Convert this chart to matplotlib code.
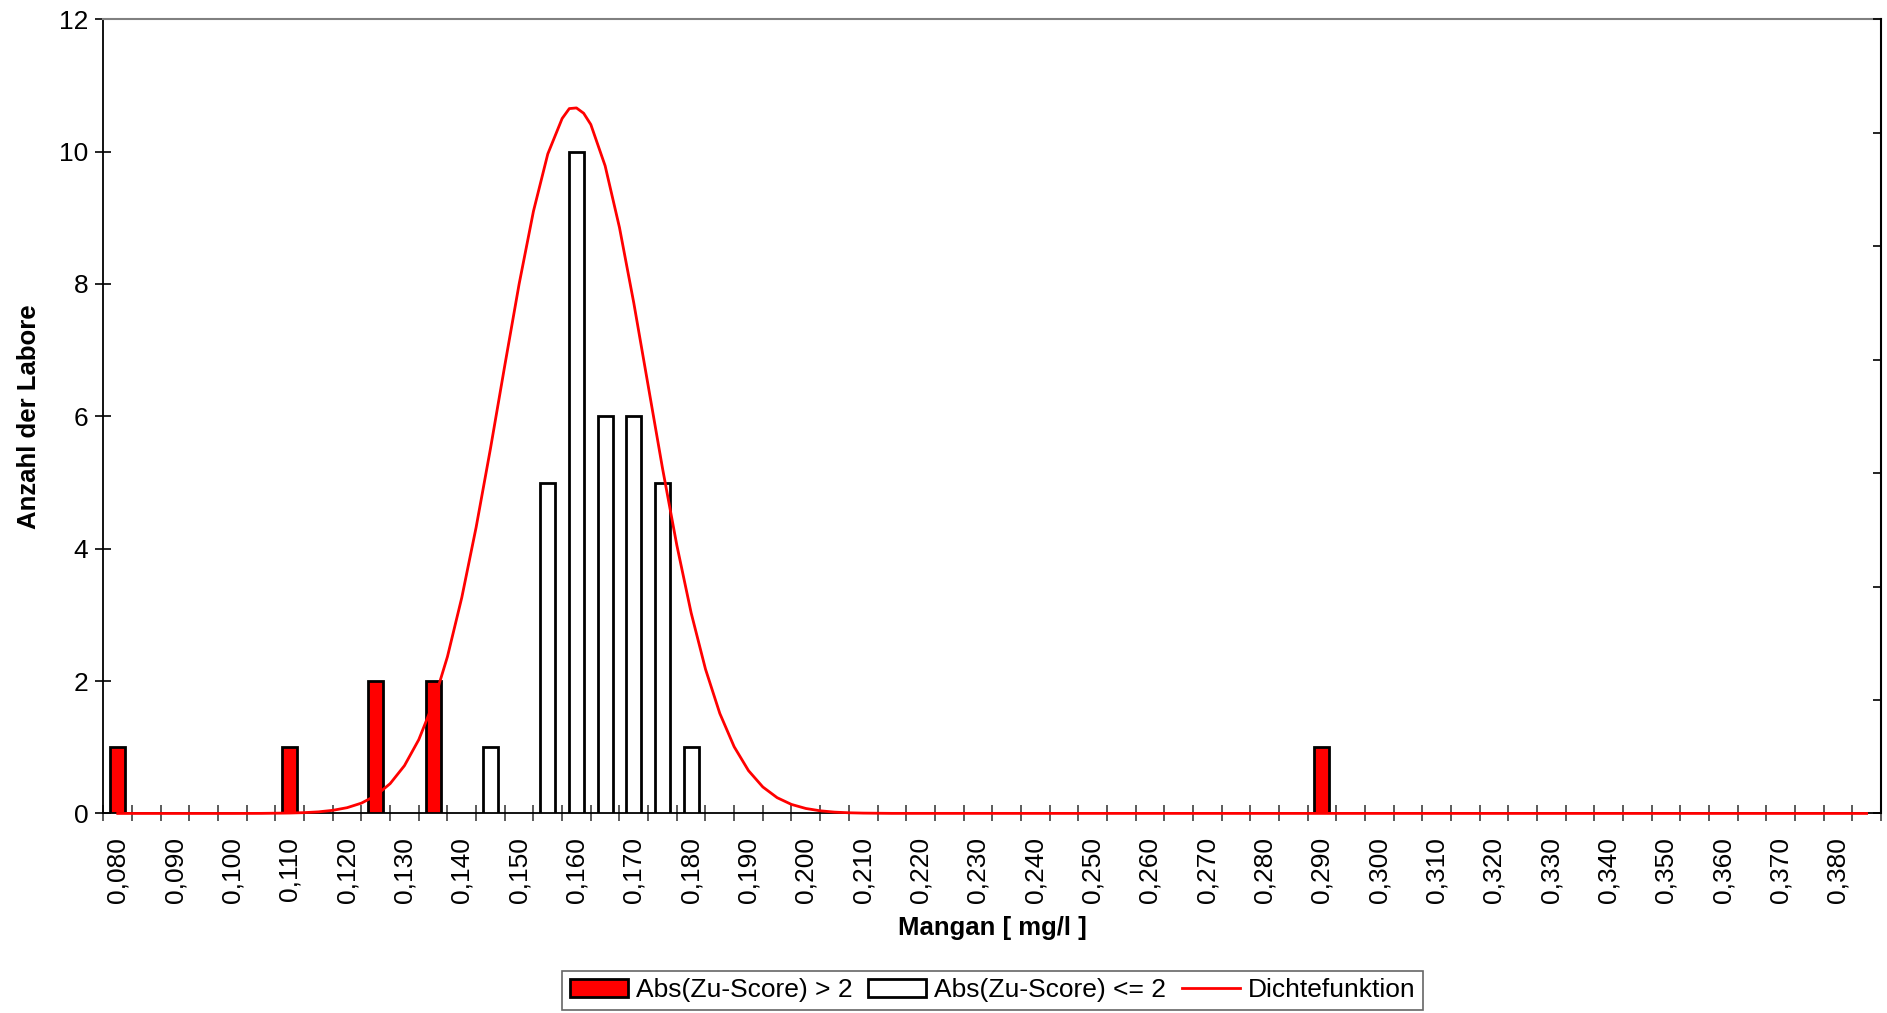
import matplotlib
matplotlib.use("Agg")
import matplotlib.pyplot as plt
from matplotlib.patches import Patch
from matplotlib.lines import Line2D
import numpy as np

plt.rcParams['font.family'] = ['Liberation Sans', 'DejaVu Sans']

# --- data -------------------------------------------------------------
# bin centres (mg/l), step 0.005
bins = [0.080, 0.085, 0.090, 0.095, 0.100, 0.105, 0.110, 0.115, 0.120, 0.125,
        0.130, 0.135, 0.140, 0.145, 0.150, 0.155, 0.160, 0.165, 0.170, 0.175,
        0.180, 0.185, 0.190, 0.195, 0.200, 0.205, 0.210, 0.215, 0.220, 0.225,
        0.230, 0.235, 0.240, 0.245, 0.250, 0.255, 0.260, 0.265, 0.270, 0.275,
        0.280, 0.285, 0.290, 0.295, 0.300, 0.305, 0.310, 0.315, 0.320, 0.325,
        0.330, 0.335, 0.340, 0.345, 0.350, 0.355, 0.360, 0.365, 0.370, 0.375,
        0.380, 0.385]
# |Zu-Score| > 2
red_counts = [1, 0, 0, 0, 0, 0, 1, 0, 0, 2,
              0, 2, 0, 0, 0, 0, 0, 0, 0, 0,
              0, 0, 0, 0, 0, 0, 0, 0, 0, 0,
              0, 0, 0, 0, 0, 0, 0, 0, 0, 0,
              0, 0, 1, 0, 0, 0, 0, 0, 0, 0,
              0, 0, 0, 0, 0, 0, 0, 0, 0, 0,
              0, 0]
# |Zu-Score| <= 2
white_counts = [0, 0, 0, 0, 0, 0, 0, 0, 0, 0,
                0, 0, 0, 1, 0, 5, 10, 6, 6, 5,
                1, 0, 0, 0, 0, 0, 0, 0, 0, 0,
                0, 0, 0, 0, 0, 0, 0, 0, 0, 0,
                0, 0, 0, 0, 0, 0, 0, 0, 0, 0,
                0, 0, 0, 0, 0, 0, 0, 0, 0, 0,
                0, 0]
# density curve (in units of the left axis)
dens_x = [0.080, 0.1000, 0.1050, 0.1100, 0.1125, 0.1150, 0.1175, 0.1200, 0.1225,
          0.1250, 0.1275, 0.1300, 0.1325, 0.1350, 0.1375, 0.1400, 0.1425, 0.1450,
          0.1475, 0.1500, 0.1525, 0.1550, 0.1575, 0.15875, 0.1600, 0.16125,
          0.1625, 0.1650, 0.1675, 0.1700, 0.1725, 0.1750, 0.1775, 0.1800,
          0.1825, 0.1850, 0.1875, 0.1900, 0.1925, 0.1950, 0.1975, 0.2000,
          0.2025, 0.2050, 0.2075, 0.2100, 0.2150, 0.385]
dens_y = [0.0, 0.0, 0.001, 0.006, 0.012, 0.024, 0.047, 0.087, 0.156,
          0.270, 0.450, 0.722, 1.115, 1.657, 2.369, 3.262, 4.323, 5.512,
          6.769, 8.000, 9.100, 9.965, 10.50, 10.65, 10.66, 10.58,
          10.41, 9.785, 8.853, 7.712, 6.466, 5.218, 4.054, 3.031,
          2.181, 1.511, 1.008, 0.647, 0.400, 0.238, 0.136, 0.075,
          0.040, 0.020, 0.010, 0.005, 0.001, 0.0]
tick_labels = ["0,080", "0,090", "0,100", "0,110", "0,120", "0,130", "0,140", "0,150",
               "0,160", "0,170", "0,180", "0,190", "0,200", "0,210", "0,220", "0,230",
               "0,240", "0,250", "0,260", "0,270", "0,280", "0,290", "0,300", "0,310",
               "0,320", "0,330", "0,340", "0,350", "0,360", "0,370", "0,380"]
tick_values = [0.080, 0.090, 0.100, 0.110, 0.120, 0.130, 0.140, 0.150,
               0.160, 0.170, 0.180, 0.190, 0.200, 0.210, 0.220, 0.230,
               0.240, 0.250, 0.260, 0.270, 0.280, 0.290, 0.300, 0.310,
               0.320, 0.330, 0.340, 0.350, 0.360, 0.370, 0.380]

# --- figure -----------------------------------------------------------
fig = plt.figure(figsize=(18.87, 10.13), dpi=100)
ax = fig.add_axes([0.0548, 0.197, 0.9968 - 0.0548, 0.981 - 0.197])

step = 0.005
bw = step * 0.52
bins_arr = np.array(bins)
red_arr = np.array(red_counts)
white_arr = np.array(white_counts)
m_r = red_arr > 0
m_w = white_arr > 0
ax.bar(bins_arr[m_r], red_arr[m_r], width=bw, color='#ff0000', edgecolor='black',
       linewidth=2.0, zorder=3)
ax.bar(bins_arr[m_w], white_arr[m_w], width=bw, color='white', edgecolor='black',
       linewidth=2.0, zorder=3)
ax.plot(dens_x, dens_y, color='#ff0000', lw=2.0, zorder=4, clip_on=False,
        solid_joinstyle='round')

ax.set_xlim(bins[0] - step / 2, bins[-1] + step / 2)
ax.set_ylim(0, 12)
ax.set_yticks([0, 2, 4, 6, 8, 10, 12])
ax.tick_params(axis='y', direction='inout', length=12, width=1.2, labelsize=19, pad=5)

ax.set_xticks(tick_values)
ax.set_xticklabels(tick_labels, rotation=90, fontsize=19)
ax.tick_params(axis='x', which='major', length=0, pad=17)
bounds = [b - step / 2 for b in bins] + [bins[-1] + step / 2]
ax.set_xticks(bounds, minor=True)
ax.tick_params(axis='x', which='minor', direction='inout', length=12, width=1.2,
               color='#404040')

for s in ['left', 'bottom']:
    ax.spines[s].set_color('black')
    ax.spines[s].set_linewidth(1.3)
ax.spines['top'].set_color('#808080')
ax.spines['top'].set_linewidth(1.5)
ax.spines['right'].set_visible(False)

ax2 = ax.twinx()
ax2.set_ylim(0, 7)
ax2.set_yticks(range(8))
ax2.set_yticklabels([])
ax2.tick_params(axis='y', direction='in', length=6, width=1.2, right=True)
for s in ['left', 'top', 'bottom']:
    ax2.spines[s].set_visible(False)
ax2.spines['right'].set_color('black')
ax2.spines['right'].set_linewidth(1.5)

ax.set_xlabel('Mangan [ mg/l ]', fontsize=18.5, fontweight='bold', labelpad=9)
ax.set_ylabel('Anzahl der Labore', fontsize=18.5, fontweight='bold', labelpad=13)

handles = [Patch(facecolor='#ff0000', edgecolor='black', linewidth=2.0),
           Patch(facecolor='white', edgecolor='black', linewidth=2.0),
           Line2D([0], [0], color='#ff0000', lw=2.0)]
labels = ['Abs(Zu-Score) > 2', 'Abs(Zu-Score) <= 2', 'Dichtefunktion']
leg = fig.legend(handles, labels, loc='lower center', bbox_to_anchor=(0.526, 0.0),
                 ncol=3, fontsize=19, frameon=True, fancybox=False,
                 handlelength=2.2, handleheight=0.7, handletextpad=0.3,
                 columnspacing=0.6, borderpad=0.3, borderaxespad=0.1)
leg.get_frame().set_edgecolor('#404040')
leg.get_frame().set_linewidth(1.2)

fig.savefig('out.png', dpi=100)
